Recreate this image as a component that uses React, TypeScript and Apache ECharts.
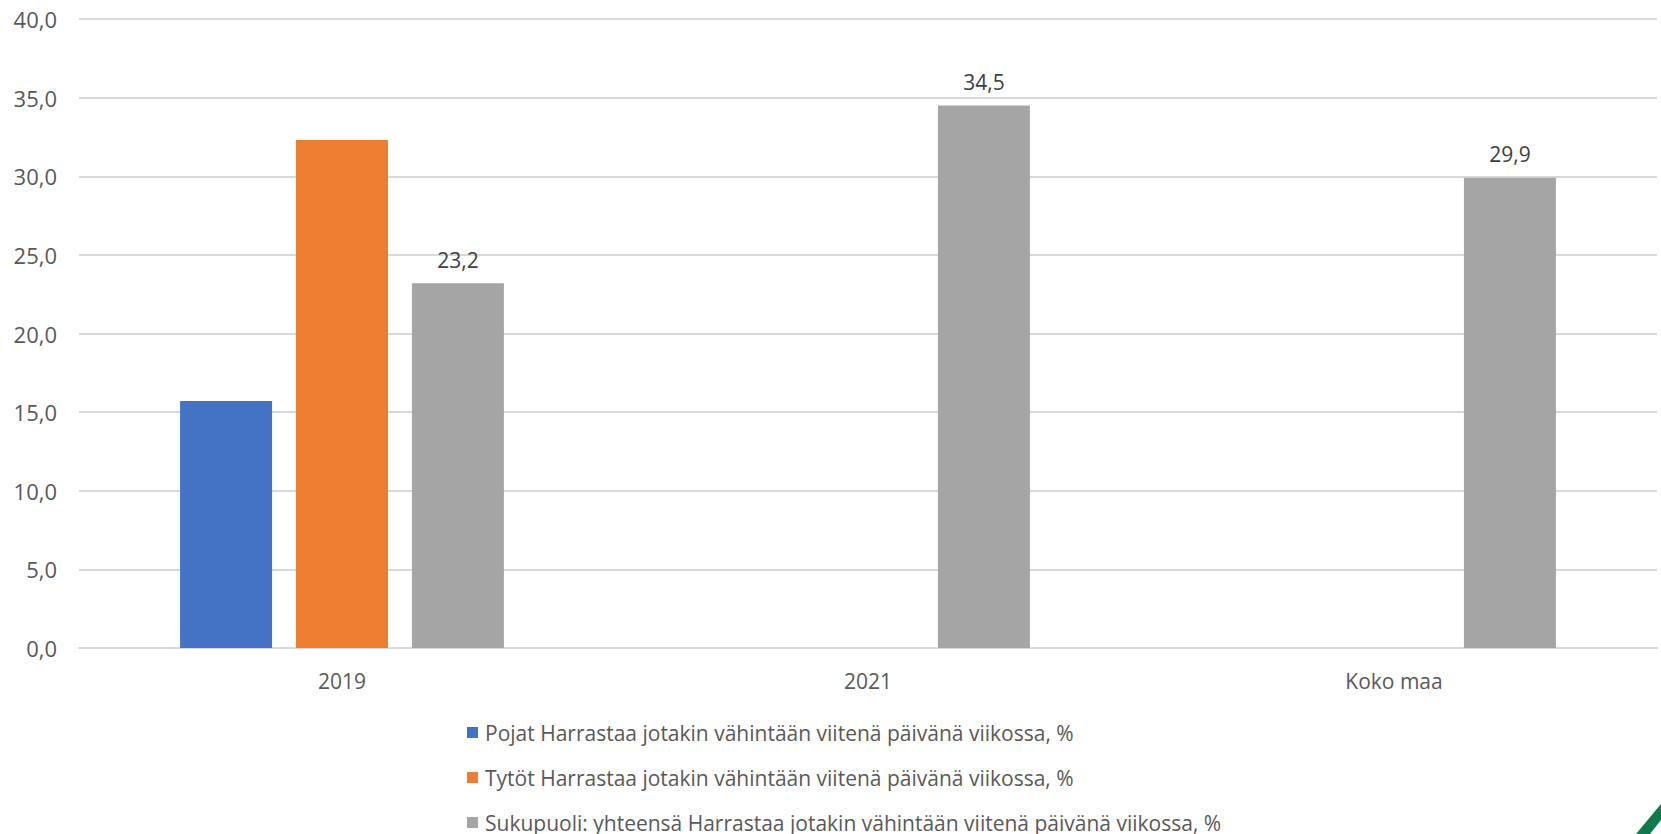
import React, { useEffect, useRef } from "react";
import * as echarts from "echarts";

const categories = ["2019", "2021", "Koko maa"];
const seriesNames = [
  "Pojat Harrastaa jotakin vähintään viitenä päivänä viikossa, %",
  "Tytöt Harrastaa jotakin vähintään viitenä päivänä viikossa, %",
  "Sukupuoli: yhteensä Harrastaa jotakin vähintään viitenä päivänä viikossa, %",
];
const pojat: (number | null)[] = [15.7, null, null];
const tytot: (number | null)[] = [32.3, null, null];
const yhteensa: (number | null)[] = [23.2, 34.5, 29.9];
const colors = ["#4472C4", "#ED7D31", "#A5A5A5"];

const FONT = "Open Sans";
const fmt = (v: number) => v.toFixed(1).replace(".", ",");
const legendTops = [717, 762, 807];

export default function App() {
  const ref = useRef<HTMLDivElement>(null);
  useEffect(() => {
    if (!ref.current) return;
    const chart = echarts.init(ref.current, undefined, { renderer: "svg" });
    const values = [pojat, tytot, yhteensa];
    chart.setOption({
      animation: false,
      textStyle: { fontFamily: FONT },
      grid: { left: 79, right: 4, top: 19, bottom: 186 },
      legend: seriesNames.map((name, i) => ({
        orient: "horizontal",
        left: 462,
        top: legendTops[i],
        itemWidth: 11,
        itemHeight: 11,
        icon: "rect",
        textStyle: { fontFamily: FONT, fontSize: 21, color: "#595959", padding: [0, 0, 0, 2] },
        data: [name],
      })),
      xAxis: {
        type: "category",
        data: categories,
        axisLine: { lineStyle: { color: "#D9D9D9", width: 2 } },
        axisTick: { show: false },
        axisLabel: { color: "#595959", fontSize: 21, fontFamily: FONT, margin: 22 },
      },
      yAxis: {
        type: "value",
        min: 0,
        max: 40,
        interval: 5,
        axisLine: { show: false },
        axisTick: { show: false },
        splitLine: { lineStyle: { color: "#D9D9D9", width: 2 } },
        axisLabel: {
          color: "#595959",
          fontSize: 22,
          fontFamily: FONT,
          margin: 22,
          formatter: (v: number) => fmt(v),
        },
      },
      series: seriesNames.map((name, i) => ({
        name,
        type: "bar",
        data: values[i],
        barWidth: 92,
        barGap: "26%",
        itemStyle: { color: colors[i] },
        label: {
          show: i === 2,
          position: "top",
          distance: 13,
          color: "#404040",
          fontSize: 21,
          fontFamily: FONT,
          formatter: (p: any) => fmt(p.value),
        },
      })),
      graphic: [
        {
          type: "polygon",
          shape: {
            points: [
              [1636, 834],
              [1661, 804],
              [1661, 820],
              [1650, 834],
            ],
          },
          style: { fill: "#0E7A4E" },
        },
      ],
    });
    return () => chart.dispose();
  }, []);
  return (
    <div
      ref={ref}
      style={{ position: "absolute", left: 0, top: 0, width: 1661, height: 834, background: "#fff" }}
    />
  );
}
